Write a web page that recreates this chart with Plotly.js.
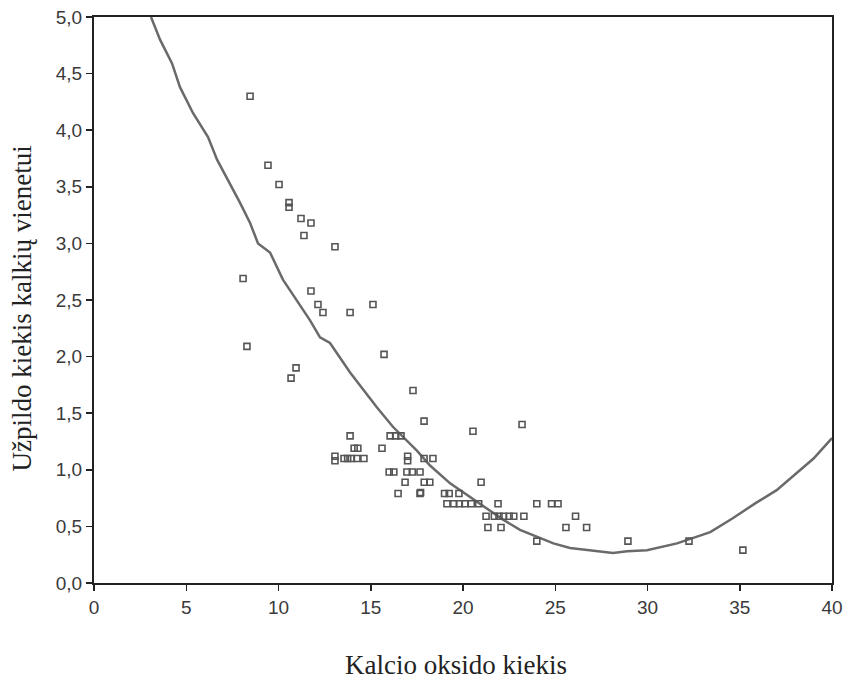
<!DOCTYPE html>
<html>
<head>
<meta charset="utf-8">
<script src="https://cdn.plot.ly/plotly-3.0.1.min.js"></script>
<style>html,body{margin:0;padding:0;background:#fff;}#chart{width:845px;height:684px;}</style>
</head>
<body>
<div id="chart"></div>
<script>
// Observed points: calcium oxide amount vs filler amount per lime unit
const pointX = [8.46, 9.43, 10.03, 10.57, 10.57, 11.22, 11.76, 11.38, 13.06, 8.08,
  11.76, 12.14, 12.41, 13.88, 15.12, 8.29, 15.72, 10.95, 10.68, 17.29,
  17.89, 23.2, 20.54, 13.88, 16.05, 16.35, 16.64, 14.1, 14.3, 15.61,
  13.06, 13.06, 13.55, 13.75, 13.95, 14.25, 14.63, 17.0, 17.0, 17.89,
  18.37, 16.0, 16.25, 16.96, 17.25, 17.67, 16.86, 17.9, 18.2, 20.98,
  16.48, 17.67, 17.7, 19.0, 19.25, 19.78, 19.13, 19.5, 19.8, 20.1,
  20.45, 20.85, 21.9, 24.0, 24.8, 25.15, 21.25, 21.7, 21.95, 22.2,
  22.5, 22.75, 23.3, 26.1, 21.35, 22.06, 25.58, 26.7, 24.0, 28.94,
  32.25, 35.17];
const pointY = [4.30, 3.69, 3.52, 3.36, 3.32, 3.22, 3.18, 3.07, 2.97, 2.69,
  2.58, 2.46, 2.39, 2.39, 2.46, 2.09, 2.02, 1.90, 1.81, 1.70,
  1.43, 1.40, 1.34, 1.30, 1.30, 1.30, 1.30, 1.19, 1.19, 1.19,
  1.12, 1.08, 1.10, 1.10, 1.10, 1.10, 1.10, 1.12, 1.08, 1.10,
  1.10, 0.98, 0.98, 0.98, 0.98, 0.98, 0.89, 0.89, 0.89, 0.89,
  0.79, 0.79, 0.80, 0.79, 0.79, 0.79, 0.70, 0.70, 0.70, 0.70,
  0.70, 0.70, 0.70, 0.70, 0.70, 0.70, 0.59, 0.59, 0.59, 0.59,
  0.59, 0.59, 0.59, 0.59, 0.49, 0.49, 0.49, 0.49, 0.37, 0.37,
  0.37, 0.29];

// Fitted curve
const curveX = [3.09, 3.58, 4.23, 4.66, 5.37, 6.18, 6.67, 7.37, 7.91, 8.46,
  8.89, 9.54, 10.24, 11.71, 12.25, 12.79, 13.88, 15.34, 16.2, 17.5,
  18.2, 19.3, 20.38, 21.3, 22.17, 23.09, 24.0, 24.9, 25.8, 27.4,
  28.13, 28.9, 29.97, 31.6, 33.4, 34.6, 35.9, 37.0, 38.1, 39.0, 40.0];
const curveY = [5.00, 4.80, 4.59, 4.38, 4.15, 3.94, 3.74, 3.53, 3.36, 3.18,
  3.00, 2.92, 2.68, 2.32, 2.17, 2.12, 1.86, 1.55, 1.38, 1.17,
  1.04, 0.88, 0.76, 0.66, 0.56, 0.47, 0.41, 0.35, 0.31, 0.28,
  0.265, 0.28, 0.29, 0.35, 0.45, 0.57, 0.71, 0.82, 0.97, 1.10, 1.28];

const xTicks = [0, 5, 10, 15, 20, 25, 30, 35, 40];
const yTicks = [0, 0.5, 1, 1.5, 2, 2.5, 3, 3.5, 4, 4.5, 5];
const yTickText = ['0,0', '0,5', '1,0', '1,5', '2,0', '2,5', '3,0', '3,5', '4,0', '4,5', '5,0'];

const xTitle = 'Kalcio oksido kiekis';
const yTitle = 'Užpildo kiekis kalkių vienetui';

const traces = [
  {
    x: curveX, y: curveY, type: 'scatter', mode: 'lines',
    line: {color: '#6a6a6a', width: 2.5},
    hoverinfo: 'skip', showlegend: false
  },
  {
    x: pointX, y: pointY, type: 'scatter', mode: 'markers',
    marker: {symbol: 'square-open', size: 6, color: '#555', line: {color: '#555', width: 1.6}},
    showlegend: false
  }
];

const tickFont = {family: 'Liberation Sans, Arial, sans-serif', size: 19, color: '#3a3a3a'};

const layout = {
  width: 845, height: 684,
  font: {family: 'Liberation Sans, Arial, sans-serif', size: 19, color: '#3a3a3a'},
  margin: {l: 94, r: 13, t: 17, b: 101},
  paper_bgcolor: '#fff', plot_bgcolor: '#fff',
  separators: ',.',
  showlegend: false,
  xaxis: {
    range: [0, 40], tickmode: 'array', tickvals: xTicks, ticktext: xTicks.map(String),
    showgrid: false, zeroline: false,
    showline: true, linecolor: '#222', linewidth: 2, mirror: true,
    ticks: 'outside', ticklen: 6, tickwidth: 1.5, tickcolor: '#222',
    tickfont: tickFont
  },
  yaxis: {
    range: [0, 5], tickmode: 'array', tickvals: yTicks, ticktext: yTickText,
    showgrid: false, zeroline: false,
    showline: true, linecolor: '#222', linewidth: 2, mirror: true,
    ticks: 'outside', ticklen: 6, tickwidth: 1.5, tickcolor: '#222',
    tickfont: tickFont
  },
  annotations: [
    {
      text: xTitle, xref: 'paper', yref: 'paper', x: 0.49, y: 0,
      xanchor: 'center', yanchor: 'middle', yshift: -82, showarrow: false,
      font: {family: 'Liberation Serif, Times New Roman, serif', size: 27, color: '#222'}
    },
    {
      text: yTitle, xref: 'paper', yref: 'paper', x: 0, y: 0.485,
      xanchor: 'center', yanchor: 'middle', xshift: -72, textangle: -90, showarrow: false,
      font: {family: 'Liberation Serif, Times New Roman, serif', size: 27, color: '#222'}
    }
  ]
};

Plotly.newPlot('chart', traces, layout, {displayModeBar: false, staticPlot: true});
</script>
</body>
</html>
